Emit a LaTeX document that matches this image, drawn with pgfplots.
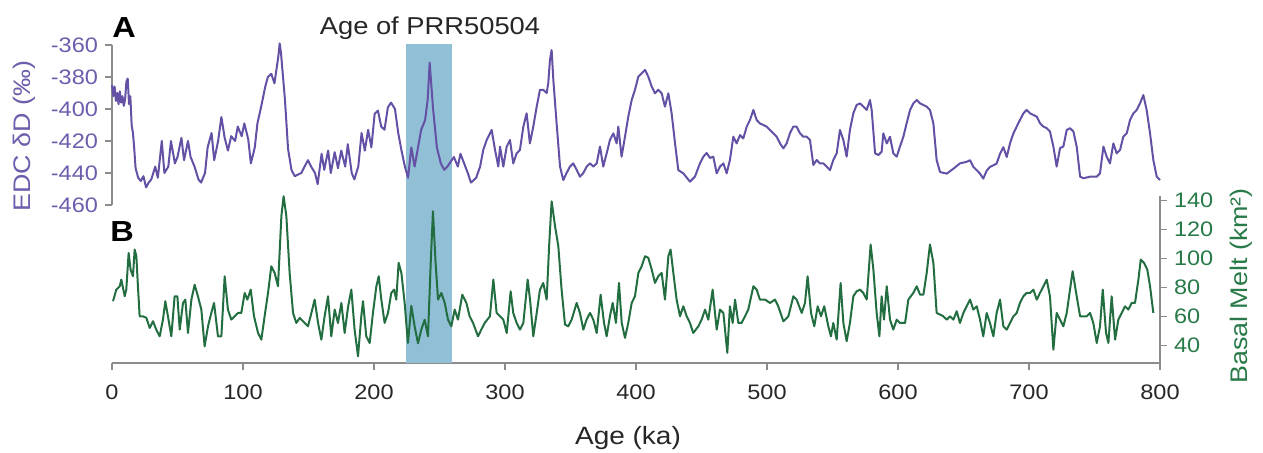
\documentclass[border=0pt]{standalone}
\usepackage{fontspec}
\setmainfont{Liberation Sans}[FakeStretch=1.12]
\usepackage{pgfplots}
\pgfplotsset{compat=1.18}
\definecolor{edcline}{RGB}{100,80,165}
\definecolor{edctext}{RGB}{110,92,172}
\definecolor{meltline}{RGB}{35,110,65}
\definecolor{melttext}{RGB}{40,122,72}
\definecolor{axgray}{RGB}{140,140,140}
\definecolor{band}{RGB}{145,191,214}
\newcommand{\tickfont}{\fontsize{10.5}{12}\selectfont}
\pgfplotsset{
  panel/.style={
    scale only axis, width=524pt, xmin=0, xmax=800,
    axis line style={draw=axgray, line width=0.8pt},
    tick style={draw=axgray, line width=0.8pt},
    tick align=outside, major tick length=3.5pt,
    /pgf/number format/assume math mode=true,
    clip=false,
  },
}
\begin{document}
\begin{tikzpicture}
\useasboundingbox (0,0) rectangle (631.5pt,-226.5pt);
% B: basal melt
\begin{axis}[panel,
  at={(56pt,-181.5pt)}, anchor=south west, height=83.4pt,
  ymin=28, ymax=143,
  axis x line*=bottom, axis y line*=right,
  xtick={0,100,...,800}, ytick={40,60,...,140},
  x tick label style={font=\tickfont, text=black!85, yshift=-4pt},
  y tick label style={font=\tickfont, text=melttext},
]
\fill[band] (axis cs:224.7,28) rectangle (axis cs:259.3,247.6);
\addplot[meltline, line width=1pt, line join=round] coordinates {
(0.8,70.6) (3.3,78.6) (5.9,80.9) (7.1,85.5) (9.7,74) (10.9,78.6) (12.7,103.9) (14.2,92.4)
(16,87.8) (17.3,106.2) (18.6,101.6) (19.8,80.9) (21.1,60.2) (23.7,60.2) (26.2,59.1) (28.8,52.2)
(31.3,56.8) (33.8,51) (36.4,46.4) (38.9,57.9) (40.7,70.6) (42.7,60.2) (45.3,46.4) (47.8,74)
(49.9,74) (51.7,51) (54.2,69.4) (56,71.7) (58,48.7) (60.6,71.7) (63.1,82) (65.6,74)
(68.2,64.8) (70.7,39.5) (73.3,53.3) (75.8,62.5) (77.9,69.4) (80.9,46.4) (83.5,46.4) (86,87.8)
(88.5,64.8) (91.1,57.9) (93.6,60.2) (96.2,62.5) (98.7,62.5) (101.3,76.3) (103.3,71.7) (105.9,78.6)
(108.4,60.2) (111.5,48.7) (114,44.1) (116.5,60.2) (119.1,76.3) (121.6,94.7) (124.2,90.1) (126.7,80.9)
(129.3,129.2) (131,143) (133.1,129.2) (135.6,90.1) (138.2,62.5) (140.7,55.6) (143.3,59.1) (147.1,55.6)
(149.6,53.3) (152.2,62.5) (154.7,71.7) (157.3,55.6) (159.8,44.1) (162.3,60.2) (164.9,74) (167.4,46.4)
(170,64.8) (172.5,55.6) (175.1,69.4) (177.6,48.7) (180.2,66.7) (182.7,78.6) (185.2,51) (187.8,32.6)
(190.3,60.2) (191.6,70.6) (194.1,46.4) (196.7,41.8) (199.2,62.5) (201.8,80.9) (203.6,87.8) (205.6,71.7)
(208.1,55.6) (210.7,62.5) (213.2,76.3) (215.3,78.6) (217,71.7) (218.8,97.1) (220.9,90.1) (223.4,69.4)
(225.9,41.8) (228.5,67.4) (231,53.3) (233.6,41.6) (236.1,51) (238.7,57.9) (241.2,46.4) (243.3,97.1)
(245,132.6) (247,97.1) (248.9,71.7) (251.4,76.3) (254,69.4) (256.5,57.9) (259,53.3) (261.6,64.8)
(264.1,57.9) (267.4,75.1) (270.5,69.4) (273,60.2) (275.6,55.6) (279.4,46.4) (281.9,51) (284.5,55.6)
(288.5,60.2) (291.1,85.5) (293.6,62.5) (296.2,60.2) (298.7,57.9) (301.3,48.7) (304.3,77.4) (306.3,62.5)
(308.9,55.6) (311.4,51) (314,55.6) (317.3,85.5) (319.1,71.7) (321.6,46.4) (324.2,62.5) (326.7,78.6)
(329.2,83.2) (331.8,71.7) (333.8,110.8) (335.6,139.5) (338.2,122.3) (340.7,108.5) (343.2,78.6) (345.8,54.5)
(348.3,53.3) (350.9,57.9) (354.7,69.4) (357.2,62.5) (359.8,51) (362.3,57.9) (364.9,62.5) (367.4,57.9)
(370,48.7) (373,75.1) (375.6,55.6) (377.6,46.4) (380.1,60.2) (382.2,69.4) (384.7,55.6) (387,83.2)
(389.1,55.6) (391.6,45.3) (394.1,55.6) (396.7,69.4) (399.2,74) (401.8,90.1) (404.3,94.7) (406.9,101.6)
(409.4,100.5) (412,92.4) (414.5,83.2) (417,87.8) (419.6,90.1) (422.1,71.7) (424.7,101.6) (426.4,106.2)
(428.5,90.1) (431,71.7) (433.6,60.2) (436.1,67.1) (438.7,60.2) (441.2,55.6) (443.7,48.7) (447.6,53.3)
(450.1,57.9) (452.7,64.8) (455.2,57.9) (458.5,78.6) (461.6,51) (464.1,64.8) (466.7,62.5) (469.7,35)
(471.7,67.1) (473.8,55.6) (475.6,71.7) (478.1,55.6) (480.6,55.6) (483.2,60.2) (485.7,64.8) (489.6,80.9)
(492.1,78.6) (494.6,71.7) (498.5,71.7) (502.3,69.4) (506.1,71.7) (508.6,67.1) (512.5,56.7) (516.3,60.2)
(520.1,74) (522.6,71.7) (526.5,62.5) (529,69.4) (531,87.8) (533.6,62.5) (536.1,53.3) (538.7,67.1)
(541.2,60.2) (543.7,67.1) (546.8,53.3) (548.8,46.4) (550.6,55.6) (553.2,44.1) (556.2,83.2) (558.3,55.6)
(560.8,43) (563.3,55.6) (565.9,74) (568.4,77.4) (571,78.6) (573.5,76.3) (576.1,71.7) (579.1,109.7)
(581.2,92.4) (583.7,62.5) (585.8,46.4) (587.5,74) (589.3,57.9) (591.4,80.9) (593.9,57.9) (596.4,51)
(599,57.9) (601.5,55.6) (605.4,55.6) (607.9,71.7) (611.7,76.3) (614.3,80.9) (616.8,75.2) (619.4,75.2)
(621.9,90.1) (624.4,109.7) (627,97) (629.5,62.5) (632.1,61.4) (634.6,60.2) (637.2,57.9) (639.7,60.2)
(642.3,57.9) (644.8,63.7) (647.3,55.6) (649.9,62.5) (652.4,67.1) (655,71.7) (657.5,64.8) (660.1,67.1)
(662.6,57.9) (665.1,46.4) (667.7,62.5) (670.2,55.6) (672.8,46.4) (675.3,62.5) (677.9,71.7) (680.4,53.3)
(683,51) (685.5,55.6) (688.1,60.2) (690.6,62.5) (693.1,69.4) (695.7,74) (698.2,76.3) (700.8,76.3)
(703.3,78.6) (705.9,71.7) (708.4,76.3) (711,80.9) (713.5,85.5) (716,74) (718.6,37.2) (721.1,62.5)
(723.7,57.9) (726.2,53.3) (728.8,62.5) (731.3,78.6) (733.3,91.3) (736.4,74) (739,60.2) (741.5,60.2)
(744,60.2) (746.6,62.5) (749.1,55.6) (751.7,41.8) (754.2,53.3) (756.3,78.6) (758.8,48.7) (760.6,41.8)
(763.1,74) (765.7,44.1) (768.2,57.9) (770.8,62.5) (773.3,67.1) (775.8,64.8) (778.4,69.4) (780.9,69.4)
(783.5,85.5) (785.3,99.3) (787.8,97) (790.3,92.4) (792.4,80.9) (794.9,62.5)
};
\end{axis}
% A: EDC deuterium
\begin{axis}[panel,
  at={(56pt,-102.5pt)}, anchor=south west, height=80pt,
  ymin=-460, ymax=-360,
  axis x line=none, axis y line*=left,
  ytick={-460,-440,...,-360},
  yticklabels={-460,-440,-420,-400,-380,-360},
  y tick label style={font=\tickfont, text=edctext},
]
\addplot[edcline, line width=1pt, line join=round] coordinates {
(0,-385) (1,-392) (2,-386) (3,-395) (4,-390) (5,-397) (6,-389) (7,-396) (8,-392) (9,-398)
(10,-394) (11,-383) (12,-381) (13,-397) (14,-392) (15,-410) (16,-415) (17,-425) (18,-437) (20,-443)
(22,-445) (24,-442) (26,-449) (28,-446) (30,-444) (33,-436) (35,-443) (38,-420) (40,-440) (43,-436)
(45,-420) (48,-434) (50,-430) (53,-418) (55,-432) (58,-420) (60,-430) (63,-436) (66,-444) (68,-446)
(71,-440) (73,-424) (76,-415) (78,-432) (81,-420) (83.5,-405) (86,-418) (88.5,-426) (91,-417) (94,-420)
(96,-411) (99,-417) (101,-409) (104,-419) (106,-434) (109,-424) (111,-409) (114,-398) (117,-386) (119,-380)
(121.6,-378) (124,-384) (127,-367) (128,-359) (129,-365) (132,-394) (134.4,-425) (137,-438) (139.5,-442) (142,-441)
(144.5,-440) (147,-436) (149.6,-432) (152,-436) (155,-440) (157,-447) (160,-428) (162,-438) (165,-426) (167,-440)
(170,-427) (172.5,-437) (175,-426) (178,-436) (180,-422) (183,-440) (185,-444) (188,-436) (190.5,-415) (193,-426)
(195.5,-413) (198,-424) (200.5,-403) (203,-401) (205.5,-411) (208,-413) (210.6,-399) (213,-396) (216,-400) (218.5,-415)
(221,-426) (223.6,-436) (226,-443) (228.5,-424) (231,-436) (233.6,-424) (236,-413) (239,-407) (241,-394) (242.5,-371)
(245,-399) (248,-424) (251,-434) (253.6,-438) (256,-436) (261,-430) (264,-436) (266,-428) (271.6,-440) (274,-446)
(278,-443) (281,-436) (283.4,-425.6) (286,-419.4) (289.8,-413.1) (292.4,-425.6) (294.9,-436) (296.2,-423.5) (298.7,-436) (301.3,-423.5)
(303.8,-419.4) (306.3,-434) (308.9,-427.7) (311.4,-425.6) (314,-411) (316.5,-402.7) (319,-421.5) (321.6,-411) (324.2,-398.5) (326.7,-388)
(329.2,-388) (331.8,-390) (333,-384) (334.3,-369.4) (335.6,-363.1) (336.9,-381.9) (339.4,-409) (342,-436) (344.5,-444.4) (347,-440)
(349.6,-436) (352.1,-434) (354.7,-438) (357.2,-442.3) (359.8,-440) (362.3,-436) (364.9,-434) (367.4,-436) (370,-434) (372.5,-423.5)
(375,-436) (377.6,-427.7) (380.1,-419.4) (382.7,-415.2) (385.2,-421.5) (386.5,-411) (389,-429.8) (391.6,-417.3) (394.1,-404.8) (396.7,-394.4)
(399.2,-388) (401.8,-379.8) (404.3,-377.7) (406.9,-375.6) (409.4,-379.8) (412,-386) (414.5,-390.2) (417,-388) (419.6,-390.2) (422.1,-398.5)
(424.7,-390.2) (427.2,-402.7) (429.8,-421.5) (432.3,-438.2) (436.1,-440.2) (441.2,-445.4) (445,-442.3) (448.8,-434) (451.4,-429.8) (453.9,-427.5)
(456.5,-430.6) (459,-429.8) (461.6,-440.2) (464.1,-436) (466.7,-434) (469.2,-440.2) (471.7,-431.9) (474.3,-417.3) (476.8,-421.5) (479.4,-416.3)
(481.9,-418.4) (484.5,-411) (487,-406.9) (489.6,-400.6) (492.1,-406.9) (494.6,-409) (499.7,-411) (504.8,-415.2) (507.4,-417.3) (509.9,-421.5)
(512.5,-424.6) (515,-421.5) (517.5,-415.2) (520.1,-411) (522.6,-411) (525.2,-415.2) (527.7,-417.3) (530.3,-417.3) (532.8,-419.4) (535.4,-435)
(537.9,-431.9) (540.4,-434) (543,-434) (545.5,-436) (548.1,-438.2) (550.6,-431.9) (553.2,-427.7) (555.7,-413.1) (558.3,-419.4) (560.8,-429.8)
(563.3,-413.1) (565.9,-402.7) (568.4,-397.5) (571,-396.5) (573.5,-398.5) (576.1,-400.6) (578.6,-394.4) (579.9,-400.6) (582.5,-427.7) (585,-428.8)
(587.5,-426.7) (588.8,-415.2) (591.4,-421.5) (593.9,-417.3) (596.4,-427.7) (599,-429.8) (601.5,-423.5) (604.1,-417.3) (606.6,-408.9) (609.2,-400.6)
(611.7,-396.5) (614.3,-394.4) (616.8,-396.5) (619.4,-397.5) (621.9,-398.5) (624.4,-400.6) (627,-409) (629.5,-432) (632.1,-439.4) (637.2,-440.4)
(642.3,-437.3) (647.3,-434) (652.4,-433) (655,-432) (657.5,-436.2) (660.1,-438.3) (662.6,-440.4) (665.1,-443.5) (667.7,-438.5) (670.2,-436.2)
(672.8,-435.2) (675.3,-434.1) (677.9,-427.9) (680.4,-423.9) (683,-430) (685.5,-421.5) (688.1,-415.2) (690.6,-411) (693.1,-406.9) (695.7,-402.7)
(698.2,-400.6) (700.8,-402.7) (703.3,-403.7) (705.9,-404.8) (708.4,-408.9) (711,-411) (713.5,-412) (716,-414.1) (718.6,-423.5) (721.1,-436)
(723.7,-424.4) (726.2,-423.5) (728.8,-413.1) (731.3,-412) (733.9,-414.1) (736.4,-423.5) (739,-442.3) (741.5,-443.3) (746.6,-442.3) (751.7,-442.3)
(754.2,-440.2) (756.8,-423.5) (759.3,-429.8) (761.8,-434) (764.4,-421.5) (766.9,-427.7) (769.5,-425.6) (772,-417.3) (774.6,-415.2) (777.1,-406.9)
(779.7,-402.7) (782.2,-400.6) (784.7,-396.5) (787.3,-391.3) (789.8,-400.6) (792.4,-415.2) (794.9,-431.9) (797.5,-442.3) (800,-444.4)
};
\end{axis}
% labels
\node[font=\fontsize{12.2}{14}\selectfont, text=black!85, anchor=base] at (215pt,-17.5pt) {Age of PRR50504};
\node[font=\bfseries\fontsize{14.5}{16}\selectfont, anchor=base west, inner sep=0pt] at (56pt,-19pt) {A};
\node[font=\bfseries\fontsize{14.5}{16}\selectfont, anchor=base west, inner sep=0pt] at (55pt,-121pt) {B};
\node[font=\fontsize{12.5}{14}\selectfont, text=black!85, anchor=base] at (314pt,-222.5pt) {Age (ka)};
\node[font=\fontsize{12}{14}\selectfont, text=edctext, rotate=90] at (12pt,-68pt) {EDC δD (‰)};
\node[font=\fontsize{12}{14}\selectfont, text=melttext, rotate=90] at (620.5pt,-143pt) {Basal Melt (km²)};
\end{tikzpicture}
\end{document}
